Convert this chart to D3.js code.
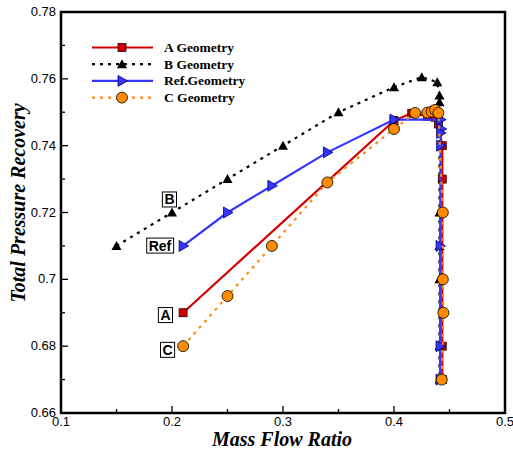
<!doctype html>
<html>
  <head>
    <meta charset="utf-8">
    <title>Total Pressure Recovery</title>
    <script src="https://cdnjs.cloudflare.com/ajax/libs/d3/7.8.5/d3.min.js"></script>
    <style>
      body { margin: 0; background: #fff; }
      .tick-label { font-family: "Liberation Sans", Arial, sans-serif; font-size: 13px; }
      .legend-text { font-family: "Liberation Serif", "Times New Roman", serif; font-weight: bold; font-size: 13.5px; }
      .axis-title { font-family: "Liberation Serif", "Times New Roman", serif; font-weight: bold; font-style: italic; font-size: 20px; }
      .tag { font-family: "Liberation Sans", Arial, sans-serif; font-weight: bold; font-size: 14px; }
    </style>
  </head>
  <body>
    <div id="chart"></div>
    <script>
      // data
      const seriesA = [[0.21,0.69],[0.40,0.7475],[0.416,0.7497],[0.43,0.7488],[0.437,0.7485],[0.440,0.7465],
                       [0.4435,0.74],[0.4435,0.73],[0.4435,0.68],[0.4435,0.67]];
      const seriesB = [[0.15,0.71],[0.20,0.72],[0.25,0.73],[0.30,0.74],[0.35,0.75],[0.40,0.7575],[0.425,0.7605],
                       [0.439,0.759],[0.441,0.755],[0.441,0.753],[0.441,0.72],[0.441,0.71],[0.441,0.70],[0.441,0.68],[0.441,0.67]];
      const seriesRef = [[0.21,0.71],[0.25,0.72],[0.29,0.728],[0.34,0.738],[0.40,0.7478],[0.442,0.7478],[0.4425,0.745],
                         [0.442,0.74],[0.442,0.7438],[0.4415,0.71],[0.4415,0.68],[0.4415,0.67]];
      const seriesC = [[0.21,0.68],[0.25,0.695],[0.29,0.71],[0.34,0.729],[0.40,0.745],[0.419,0.7498],[0.43,0.7499],
                       [0.434,0.7502],[0.437,0.7507],[0.440,0.7498],[0.444,0.72],[0.444,0.70],[0.4445,0.69],[0.443,0.67]];
      const xTicks = [0.1, 0.2, 0.3, 0.4, 0.5];
      const yTicks = [0.66, 0.68, 0.7, 0.72, 0.74, 0.76, 0.78];
      const legendNames = ["A Geometry", "B Geometry", "Ref.Geometry", "C Geometry"];
      const tags = [
        {name: "B", x: 0.1977, y: 0.7239},
        {name: "Ref", x: 0.1892, y: 0.7101},
        {name: "A", x: 0.1941, y: 0.6893},
        {name: "C", x: 0.196, y: 0.6789}
      ];

      const W = 513, H = 452;
      const svg = d3.select('#chart').append('svg').attr('width', W).attr('height', H);

      const x = d3.scaleLinear().domain([0.1, 0.5]).range([61, 505]);
      const y = d3.scaleLinear().domain([0.66, 0.78]).range([413, 12]);

      // ticks inside, left and bottom only
      const g = svg.append('g');

      d3.range(0.1, 0.5001, 0.05).forEach((v, i) => {
        const len = i % 2 === 0 ? 7 : 4;
        g.append('line').attr('x1', x(v)).attr('x2', x(v)).attr('y1', 413).attr('y2', 413 - len)
          .attr('stroke', '#000').attr('stroke-width', 1.3);
      });
      d3.range(0.66, 0.7801, 0.01).forEach((v, i) => {
        const len = i % 2 === 0 ? 7 : 4;
        g.append('line').attr('y1', y(v)).attr('y2', y(v)).attr('x1', 61).attr('x2', 61 + len)
          .attr('stroke', '#000').attr('stroke-width', 1.3);
      });

      g.selectAll('.xl').data(xTicks).join('text').attr('class', 'tick-label')
        .attr('x', d => x(d)).attr('y', 426).attr('text-anchor', 'middle')
        .text(d => d3.format('')(+d.toFixed(2)));
      g.selectAll('.yl').data(yTicks).join('text').attr('class', 'tick-label')
        .attr('x', 56).attr('y', d => y(d) + 4).attr('text-anchor', 'end')
        .text(d => d3.format('')(+d.toFixed(2)));

      const line = d3.line().x(d => x(d[0])).y(d => y(d[1]));

      const styles = [
        {data: seriesA, color: '#d40000', dash: null, marker: 'square', fill: '#cc0000'},
        {data: seriesB, color: '#000000', dash: '3,5', marker: 'triangle', fill: '#000000'},
        {data: seriesRef, color: '#3535ff', dash: null, marker: 'right', fill: '#3535ff'},
        {data: seriesC, color: '#ff8c1a', dash: '3,5', marker: 'circle', fill: '#ff8c00'}
      ];

      function marker(sel, type, fill) {
        if (type === 'square') {
          sel.append('rect').attr('x', -4).attr('y', -4).attr('width', 8).attr('height', 8)
            .attr('fill', fill).attr('stroke', '#300').attr('stroke-width', 0.8);
        } else if (type === 'triangle') {
          sel.append('path').attr('d', 'M0,-5L5,4L-5,4Z').attr('fill', fill);
        } else if (type === 'right') {
          sel.append('path').attr('d', 'M-4,-5.5L5.5,0L-4,5.5Z').attr('fill', fill)
            .attr('stroke', '#000060').attr('stroke-width', 0.8);
        } else {
          sel.append('circle').attr('r', 5.5).attr('fill', fill)
            .attr('stroke', '#000').attr('stroke-width', 0.8);
        }
      }

      const plot = svg.append('g');
      styles.forEach(s => {
        plot.append('path').datum(s.data).attr('d', line).attr('fill', 'none')
          .attr('stroke', s.color).attr('stroke-width', 2.2)
          .attr('stroke-dasharray', s.dash);
        plot.selectAll(null).data(s.data).join('g')
          .attr('transform', d => `translate(${x(d[0])},${y(d[1])})`)
          .each(function() { marker(d3.select(this), s.marker, s.fill); });
      });

      // frame
      svg.append('rect').attr('x', 61).attr('y', 12).attr('width', 444).attr('height', 401)
        .attr('fill', 'none').attr('stroke', '#000').attr('stroke-width', 2.5);

      // legend
      const legend = svg.append('g');
      legendNames.forEach((name, i) => {
        const ly = 47.5 + i * 16.7;
        const s = styles[i];
        legend.append('line').attr('x1', 92).attr('x2', 153).attr('y1', ly).attr('y2', ly)
          .attr('stroke', s.color).attr('stroke-width', 2.2).attr('stroke-dasharray', s.dash);
        const mg = legend.append('g').attr('transform', `translate(122,${ly})`);
        marker(mg, s.marker, s.fill);
        legend.append('text').attr('class', 'legend-text').attr('x', 164).attr('y', ly + 4.5).text(name);
      });

      // boxed tags
      tags.forEach(t => {
        const tg = svg.append('g');
        const txt = tg.append('text').attr('class', 'tag').attr('x', x(t.x)).attr('y', y(t.y) + 5)
          .attr('text-anchor', 'middle').text(t.name);
        const bb = txt.node().getBBox();
        tg.insert('rect', 'text').attr('x', bb.x - 2).attr('y', y(t.y) - 7.5).attr('width', bb.width + 4)
          .attr('height', 15).attr('fill', '#fff').attr('stroke', '#000').attr('stroke-width', 1);
      });

      // axis titles
      svg.append('text').attr('class', 'axis-title').attr('x', 282).attr('y', 446)
        .attr('text-anchor', 'middle').text('Mass Flow Ratio');
      svg.append('text').attr('class', 'axis-title').attr('transform', 'translate(25,203) rotate(-90)')
        .attr('text-anchor', 'middle').text('Total Pressure Recovery');
    </script>
  </body>
</html>
